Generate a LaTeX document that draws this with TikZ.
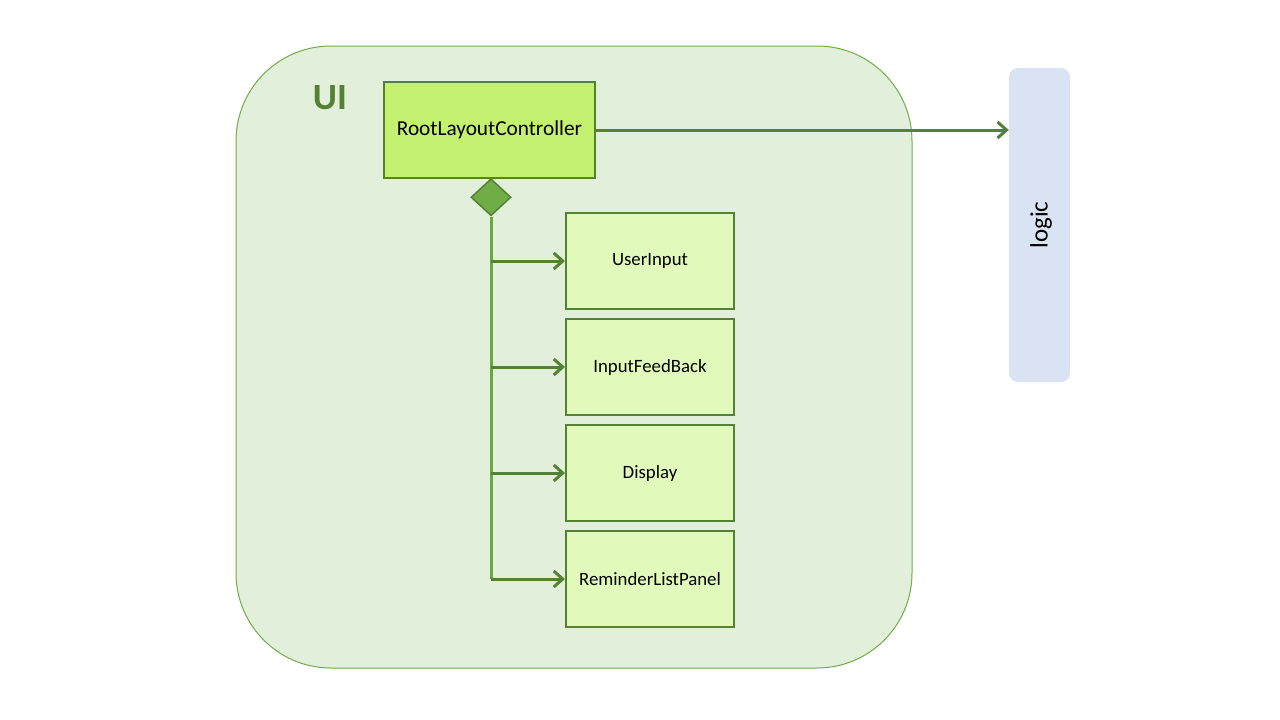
\documentclass[tikz,border=0pt]{standalone}
\usepackage{fontspec}
\setmainfont{Carlito}
\usetikzlibrary{arrows.meta,shapes.geometric}
\definecolor{uifill}{HTML}{E2EFDA}
\definecolor{uiedge}{HTML}{70AD47}
\definecolor{darkgreen}{HTML}{548235}
\definecolor{rootfill}{HTML}{C4F270}
\definecolor{childfill}{HTML}{E2F9BC}
\definecolor{logicfill}{HTML}{DAE3F3}
\definecolor{linegreen}{HTML}{6AA840}
\tikzset{
  rootbox/.style={draw=darkgreen, line width=2pt, fill=rootfill, minimum width=211pt, minimum height=96pt, inner sep=0pt, font=\fontsize{21.3}{23}\selectfont},
  childbox/.style={draw=darkgreen, line width=2pt, fill=childfill, minimum width=168pt, minimum height=96pt, inner sep=0pt, font=\fontsize{18.8}{21}\selectfont},
  link/.style={draw=darkgreen, line width=3pt, -{Straight Barb[length=9pt,width=16pt,line width=3pt]}},
  trunk/.style={draw=linegreen, line width=3pt},
}
\begin{document}
\begin{tikzpicture}[x=1pt,y=-1pt]
  \useasboundingbox (0,0) rectangle (1280,720);
  \fill[white] (0,0) rectangle (1280,720);
  % UI package
  \draw[fill=uifill, draw=uiedge, line width=1pt, rounded corners=95pt] (236,46) rectangle (912,668);
  \node[anchor=center, text=darkgreen, font=\fontsize{37}{40}\selectfont\bfseries] (uilabel) at (330,98) {UI};
  % logic component
  \node[fill=logicfill, rounded corners=9pt, minimum width=61pt, minimum height=314pt, inner sep=0pt] (logic) at (1039.5,225) {};
  \node[rotate=90, font=\fontsize{25}{27}\selectfont] (logictext) at (1041,225) {logic};
  % root controller
  \node[rootbox] (root) at (489.5,130) {RootLayoutController};
  \node[diamond, fill=uiedge, draw=darkgreen, line width=1.5pt, minimum width=40pt, minimum height=37pt, inner sep=0pt, anchor=north] (dia) at (491,178) {};
  % child parts
  \node[childbox] (c1) at (650,261) {UserInput};
  \node[childbox] (c2) at (650,367) {InputFeedBack};
  \node[childbox] (c3) at (650,473) {Display};
  \node[childbox] (c4) at (650,579) {ReminderListPanel};
  \coordinate (tend) at (491,579);
  \draw[trunk] (dia.south) -- (tend);
  \draw[link] (c1.west -| dia.south) -- (c1.west);
  \draw[link] (c2.west -| dia.south) -- (c2.west);
  \draw[link] (c3.west -| dia.south) -- (c3.west);
  \draw[link] (tend) -- (c4.west);
  % dependency on logic
  \draw[link] (root.east) -- (root.east -| logic.west);
\end{tikzpicture}
\end{document}
